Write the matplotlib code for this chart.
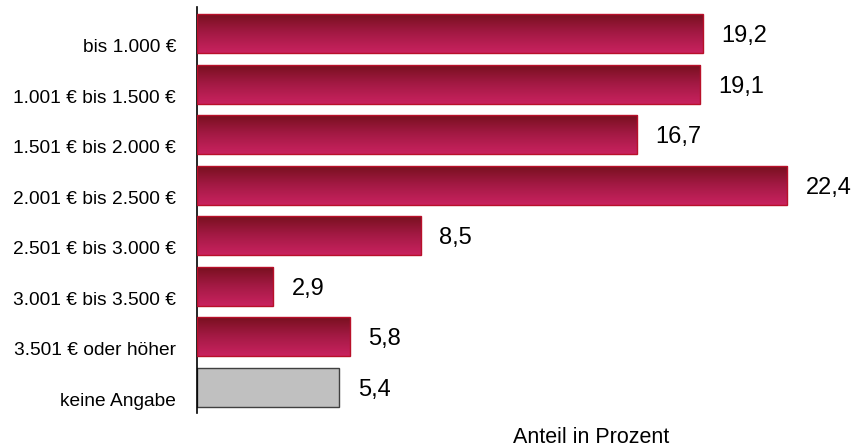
import matplotlib
matplotlib.use("Agg")
import matplotlib.pyplot as plt
import matplotlib.transforms as mtransforms
import numpy as np
from matplotlib.colors import LinearSegmentedColormap

plt.rcParams['font.family'] = ['Liberation Sans', 'DejaVu Sans']

categories = ["bis 1.000 €", "1.001 € bis 1.500 €", "1.501 € bis 2.000 €",
              "2.001 € bis 2.500 €", "2.501 € bis 3.000 €", "3.001 € bis 3.500 €",
              "3.501 € oder höher", "keine Angabe"]
values = [19.2, 19.1, 16.7, 22.4, 8.5, 2.9, 5.8, 5.4]
value_labels = ["19,2", "19,1", "16,7", "22,4", "8,5", "2,9", "5,8", "5,4"]
x_title = "Anteil in Prozent"

W, H = 853, 448
fig = plt.figure(figsize=(W / 100, H / 100), dpi=100)
ax = fig.add_axes([197 / W, 1 - 413 / H, (W - 197) / W, (413 - 7) / H])

grad = LinearSegmentedColormap.from_list(
    "wine", ["#c9225f", "#a51a45", "#78101f"])
gradient = np.linspace(0, 1, 256).reshape(-1, 1)

y = np.arange(len(categories))
bar_h = 0.77
for i, (yi, v) in enumerate(zip(y, values)):
    if i == len(values) - 1:
        ax.barh(yi, v, height=bar_h, color="#c0c0c0", edgecolor="#404040",
                linewidth=1.0, zorder=2)
    else:
        patch = ax.barh(yi, v, height=bar_h, color="none",
                        edgecolor="#b8102a", linewidth=1.0, zorder=3)[0]
        im = ax.imshow(gradient, cmap=grad, aspect="auto", origin="lower",
                       extent=[0, v, yi + bar_h / 2, yi - bar_h / 2],
                       zorder=2, interpolation="bilinear")
        im.set_clip_path(patch)
    ax.text(v + 0.7, yi, value_labels[i], va="center_baseline", ha="left",
            fontsize=17, color="#000000")

ax.set_xlim(0, 656 / 26.35)
ax.set_ylim(len(categories) - 1 + 0.505, -0.525)
ax.set_yticks(y)
ax.set_yticklabels(categories, fontsize=13.8)
ax.tick_params(axis="y", length=0, pad=15)
# category labels sit a little below the bar centres
shift = mtransforms.ScaledTranslation(0, -0.12, fig.dpi_scale_trans)
for lbl in ax.get_yticklabels():
    lbl.set_transform(lbl.get_transform() + shift)
ax.set_xticks([])
for s in ["top", "right", "bottom"]:
    ax.spines[s].set_visible(False)
ax.spines["left"].set_linewidth(1.2)
ax.spines["left"].set_color("#000000")

fig.text(591 / W, 1 - 437 / H, x_title, ha="center", va="center", fontsize=15.5)

fig.savefig("out.png", dpi=100)
